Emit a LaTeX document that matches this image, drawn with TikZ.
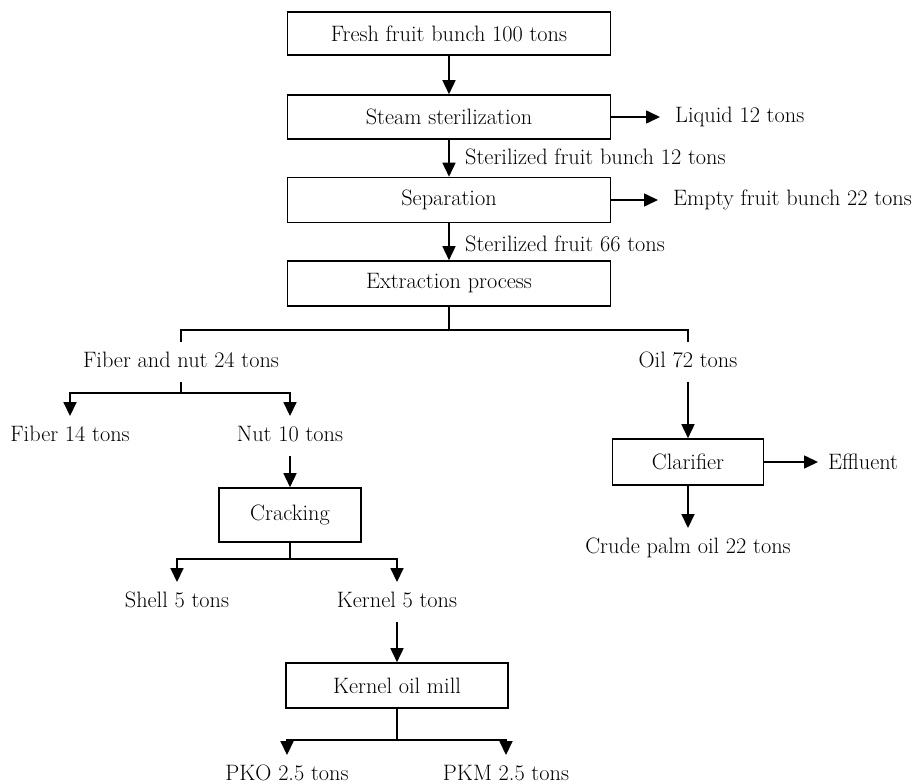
\documentclass[tikz,border=0pt]{standalone}
\usetikzlibrary{arrows.meta}
\begin{document}
\begin{tikzpicture}[x=1pt,y=-1pt,
  txt/.style={font=\fontsize{22.3}{26}\selectfont},
  box/.style={txt, draw, line width=1.6pt, inner sep=0pt},
  lbl/.style={txt, inner xsep=0pt, inner ysep=9.5pt, text height=15.5pt, text depth=5pt},
  slbl/.style={txt, inner ysep=0pt, inner xsep=15pt, anchor=west},
  ln/.style={line width=1.6pt},
  arr/.style={line width=1.6pt, -{Triangle[length=14pt,width=13pt]}}]
\useasboundingbox (0,0) rectangle (924,784);

% main chain
\node[box, minimum width=323pt, minimum height=43pt] (b1) at (449,33.5) {Fresh fruit bunch 100 tons};
\node[box, minimum width=323pt, minimum height=44pt] (b2) at (449,117) {Steam sterilization};
\node[box, minimum width=323pt, minimum height=45pt] (b3) at (449,200) {Separation};
\node[box, minimum width=323pt, minimum height=45pt] (b4) at (449,283.5) {Extraction process};

\node[slbl] (liq) at (660,117) {Liquid 12 tons};
\node[slbl] (efb) at (658,200) {Empty fruit bunch 22 tons};
\node[txt, anchor=west, inner sep=0pt] (sfb) at (465,157) {Sterilized fruit bunch 12 tons};
\node[txt, anchor=west, inner sep=0pt] (sf) at (465,244) {Sterilized fruit 66 tons};

\draw[arr] (b1.south) -- (b2.north);
\draw[arr] (b2.south) -- (b3.north);
\draw[arr] (b3.south) -- (b4.north);
\draw[arr] (b2.east) -- (liq.west);
\draw[arr] (b3.east) -- (efb.west);

% first split
\node[lbl] (fn) at (181,362) {Fiber and nut 24 tons};
\node[lbl] (oil) at (688,362) {Oil 72 tons};
\coordinate (j1) at (449,330);
\draw[ln] (b4.south) -- (j1);
\draw[ln] (fn.north) -- (fn.north |- j1) -- (oil.north |- j1) -- (oil.north);

% fiber and nut split
\node[lbl] (fib) at (70,436) {Fiber 14 tons};
\node[lbl] (nut) at (290,436) {Nut 10 tons};
\coordinate (j2) at (181,393);
\draw[ln] (fn.south) -- (j2);
\draw[arr] (j2) -| (fib.north);
\draw[arr] (j2) -| (nut.north);

% cracking
\node[box, minimum width=142pt, minimum height=54pt] (crack) at (290,515) {Cracking};
\draw[arr] (nut.south) -- (crack.north);
\node[lbl] (shell) at (177,602) {Shell 5 tons};
\node[lbl] (kern) at (397,602) {Kernel 5 tons};
\coordinate (j3) at (290,559);
\draw[ln] (crack.south) -- (j3);
\draw[arr] (j3) -| (shell.north);
\draw[arr] (j3) -| (kern.north);

% kernel oil mill
\node[box, minimum width=222pt, minimum height=45pt] (kom) at (397,685.5) {Kernel oil mill};
\draw[arr] (kern.south) -- (kom.north);
\node[lbl] (pko) at (287,775) {PKO 2.5 tons};
\node[lbl] (pkm) at (506,775) {PKM 2.5 tons};
\coordinate (j4) at (397,740);
\draw[ln] (kom.south) -- (j4);
\draw[arr] (j4) -| (pko.north);
\draw[arr] (j4) -| (pkm.north);

% clarifier
\node[box, minimum width=151pt, minimum height=46pt] (clar) at (688,462) {Clarifier};
\draw[arr] (oil.south) -- (clar.north);
\node[txt, inner ysep=0pt, inner xsep=10pt, anchor=west] (eff) at (818,462) {Effluent};
\draw[arr] (clar.east) -- (eff.west);
\node[lbl] (cpo) at (688,548) {Crude palm oil 22 tons};
\draw[arr] (clar.south) -- (cpo.north);
\end{tikzpicture}
\end{document}
